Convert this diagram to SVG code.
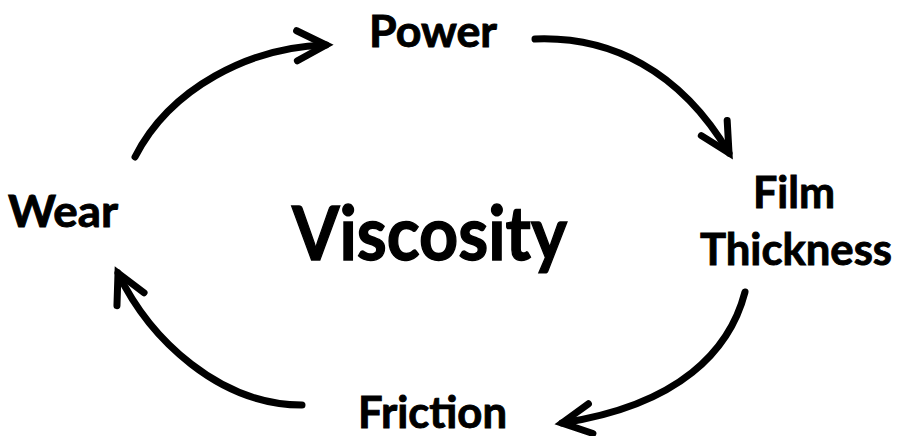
<svg xmlns="http://www.w3.org/2000/svg" width="903" height="436" viewBox="0 0 903 436">
<style>
  .lbl { font-family: Lato, "Open Sans", "Liberation Sans", sans-serif; font-weight: bold; font-size: 43px; fill: #000; stroke: #000; stroke-width: 0.9; }
  .big { font-size: 75px; stroke-width: 1.4; }
  .arc { fill: none; stroke: #000; stroke-width: 7; stroke-linecap: round; marker-end: url(#chev); }
</style>
<defs>
  <marker id="chev" markerUnits="userSpaceOnUse" markerWidth="60" markerHeight="60" refX="0" refY="0" orient="auto" overflow="visible">
    <polyline points="-29,-15 0,0 -29,15" fill="none" stroke="#000" stroke-width="7" stroke-linecap="round" stroke-linejoin="miter"/>
  </marker>
</defs>
<rect width="903" height="436" fill="#fff"/>
<g id="connectors">
  <path class="arc" d="M135,157 C170,88 250,47 326,45"/>
  <path class="arc" d="M535,39 C610,36 680,70 729,153"/>
  <path class="arc" d="M745,292 C730,350 680,405 562,423"/>
  <path class="arc" d="M302,405 C220,405 150,340 118,273"/>
</g>
<g id="node-power"><text class="lbl" x="369" y="47" textLength="128" lengthAdjust="spacingAndGlyphs">Power</text></g>
<g id="node-film"><text class="lbl" x="753" y="208" textLength="82" lengthAdjust="spacingAndGlyphs">Film</text><text class="lbl" x="700" y="265" textLength="192" lengthAdjust="spacingAndGlyphs">Thickness</text></g>
<g id="node-friction"><text class="lbl" x="358" y="428" textLength="149" lengthAdjust="spacingAndGlyphs">Friction</text></g>
<g id="node-wear"><text class="lbl" x="8" y="227" textLength="110" lengthAdjust="spacingAndGlyphs">Wear</text></g>
<g id="node-viscosity"><text class="lbl big" x="292" y="260" textLength="275" lengthAdjust="spacingAndGlyphs">Viscosity</text></g>
</svg>
